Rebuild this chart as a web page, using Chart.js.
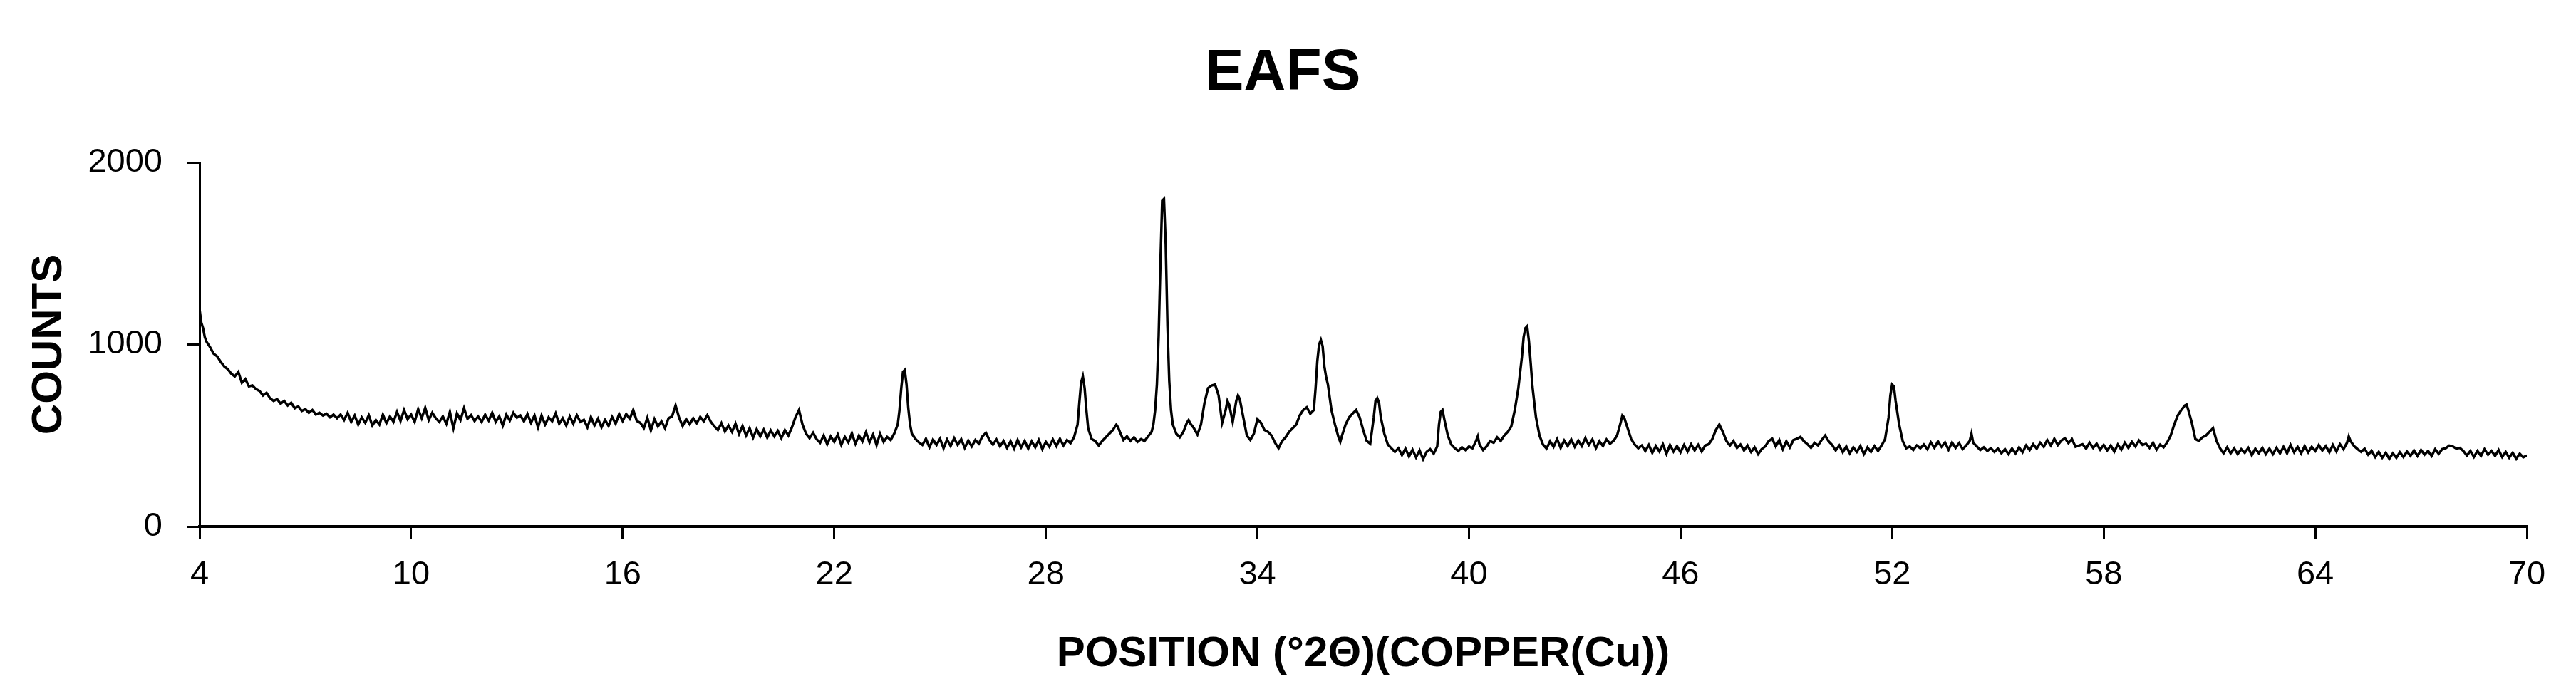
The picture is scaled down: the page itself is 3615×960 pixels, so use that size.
<!DOCTYPE html>
<html>
<head>
<meta charset="utf-8">
<script src="https://cdn.jsdelivr.net/npm/chart.js@4.4.1/dist/chart.umd.min.js"></script>
<style>
  html, body { margin: 0; padding: 0; background: #ffffff; }
  #wrap { width: 3615px; height: 960px; }
</style>
</head>
<body>
<div id="wrap"><canvas id="c" width="3615" height="960"></canvas></div>
<script>
const chartTitle = 'EAFS';
const xAxisTitle = 'POSITION (°2Θ)(COPPER(Cu))';
const yAxisTitle = 'COUNTS';
const xTickValues = [4, 10, 16, 22, 28, 34, 40, 46, 52, 58, 64, 70];
const yTickValues = [0, 1000, 2000];
const yTickLabels = ['0', '1000', '2000'];

const twoTheta = [
  4,4.05,4.1,4.15,4.2,4.3,4.4,4.5,4.6,4.7,4.8,4.9,
  5,5.1,5.2,5.3,5.4,5.5,5.6,5.7,5.8,5.9,
  6,6.1,6.2,6.3,6.4,6.5,6.6,6.7,6.8,6.9,
  7,7.1,7.2,7.3,7.4,7.5,7.6,7.7,7.8,7.9,
  8,8.1,8.2,8.3,8.4,8.5,8.6,8.7,8.8,8.9,
  9,9.1,9.2,9.3,9.4,9.5,9.6,9.7,9.8,9.9,
  10,10.1,10.2,10.3,10.4,10.5,10.6,10.7,10.8,10.9,
  11,11.1,11.2,11.3,11.4,11.5,11.6,11.7,11.8,11.9,
  12,12.1,12.2,12.3,12.4,12.5,12.6,12.7,12.8,12.9,
  13,13.1,13.2,13.3,13.4,13.5,13.6,13.7,13.8,13.9,
  14,14.1,14.2,14.3,14.4,14.5,14.6,14.7,14.8,14.9,
  15,15.1,15.2,15.3,15.4,15.5,15.6,15.7,15.8,15.9,
  16,16.1,16.2,16.3,16.4,16.5,16.6,16.7,16.8,16.9,
  17,17.1,17.2,17.3,17.4,17.5,17.6,17.7,17.8,17.9,
  18,18.1,18.2,18.3,18.4,18.5,18.6,18.7,18.8,18.9,
  19,19.1,19.2,19.3,19.4,19.5,19.6,19.7,19.8,19.9,
  20,20.1,20.2,20.3,20.4,20.5,20.6,20.7,20.8,20.9,
  21,21.1,21.2,21.3,21.4,21.5,21.6,21.7,21.8,21.9,
  22,22.1,22.2,22.3,22.4,22.5,22.6,22.7,22.8,22.9,
  23,23.1,23.2,23.3,23.4,23.5,23.6,23.7,
  23.8,23.85,23.9,23.95,24,24.05,24.1,24.15,24.2,
  24.3,24.4,24.5,24.6,24.7,24.8,24.9,
  25,25.1,25.2,25.3,25.4,25.5,25.6,25.7,25.8,25.9,
  26,26.1,26.2,26.3,26.4,26.5,26.6,26.7,26.8,26.9,
  27,27.1,27.2,27.3,27.4,27.5,27.6,27.7,27.8,27.9,
  28,28.1,28.2,28.3,28.4,28.5,28.6,28.7,28.8,
  28.9,28.95,29,29.05,29.1,29.15,29.2,
  29.3,29.4,29.5,29.6,29.7,29.8,29.9,
  30,30.05,30.1,
  30.2,30.3,30.4,30.5,30.6,30.7,30.8,30.9,
  31,31.05,31.1,31.15,31.2,31.25,31.3,31.35,31.4,31.45,31.5,31.55,31.6,
  31.7,31.8,31.9,32,32.05,32.1,32.2,32.3,32.4,32.5,32.6,32.7,32.8,32.9,
  33,33.1,33.15,33.2,33.3,33.4,33.45,33.5,33.6,33.7,33.8,33.9,
  34,34.1,34.2,34.3,34.4,34.5,34.6,34.7,34.8,34.9,
  35,35.1,35.2,35.3,35.4,35.5,35.6,35.65,35.7,35.75,35.8,35.85,35.9,35.95,
  36,36.1,36.2,36.3,36.35,36.4,36.5,36.6,36.7,36.8,36.9,
  37,37.1,37.2,37.3,37.35,37.4,37.45,37.5,37.6,37.7,37.8,37.9,
  38,38.1,38.2,38.3,38.4,38.5,38.6,38.7,38.8,38.9,
  39,39.1,39.15,39.2,39.25,39.3,39.4,39.5,39.6,39.7,39.8,39.9,
  40,40.1,40.2,40.25,40.3,40.4,40.5,40.6,40.7,40.8,40.9,
  41,41.1,41.2,41.3,41.4,41.5,41.55,41.6,41.65,41.7,41.75,41.8,41.9,
  42,42.1,42.2,42.3,42.4,42.5,42.6,42.7,42.8,42.9,
  43,43.1,43.2,43.3,43.4,43.5,43.6,43.7,43.8,43.9,
  44,44.1,44.2,44.3,44.35,44.4,44.5,44.6,44.7,44.8,44.9,
  45,45.1,45.2,45.3,45.4,45.5,45.6,45.7,45.8,45.9,
  46,46.1,46.2,46.3,46.4,46.5,46.6,46.7,46.8,46.9,
  47,47.1,47.2,47.3,47.4,47.5,47.6,47.7,47.8,47.9,
  48,48.1,48.2,48.3,48.4,48.5,48.6,48.7,48.8,48.9,
  49,49.1,49.2,49.3,49.4,49.5,49.6,49.7,49.8,49.9,
  50,50.1,50.2,50.3,50.4,50.5,50.6,50.7,50.8,50.9,
  51,51.1,51.2,51.3,51.4,51.5,51.6,51.7,51.8,
  51.9,51.95,52,52.05,52.1,52.2,52.3,52.4,52.5,52.6,52.7,52.8,52.9,
  53,53.1,53.2,53.3,53.4,53.5,53.6,53.7,53.8,53.9,
  54,54.1,54.2,54.25,54.3,54.4,54.5,54.6,54.7,54.8,54.9,
  55,55.1,55.2,55.3,55.4,55.5,55.6,55.7,55.8,55.9,
  56,56.1,56.2,56.3,56.4,56.5,56.6,56.7,56.8,56.9,
  57,57.1,57.2,57.3,57.4,57.5,57.6,57.7,57.8,57.9,
  58,58.1,58.2,58.3,58.4,58.5,58.6,58.7,58.8,58.9,
  59,59.1,59.2,59.3,59.4,59.5,59.6,59.7,59.8,59.9,
  60,60.1,60.2,60.3,60.35,60.4,60.5,60.6,60.7,60.8,60.9,
  61,61.1,61.2,61.3,61.4,61.5,61.6,61.7,61.8,61.9,
  62,62.1,62.2,62.3,62.4,62.5,62.6,62.7,62.8,62.9,
  63,63.1,63.2,63.3,63.4,63.5,63.6,63.7,63.8,63.9,
  64,64.1,64.2,64.3,64.4,64.5,64.6,64.7,64.8,64.9,64.95,
  65,65.1,65.2,65.3,65.4,65.5,65.6,65.7,65.8,65.9,
  66,66.1,66.2,66.3,66.4,66.5,66.6,66.7,66.8,66.9,
  67,67.1,67.2,67.3,67.4,67.5,67.6,67.7,67.8,67.9,
  68,68.1,68.2,68.3,68.4,68.5,68.6,68.7,68.8,68.9,
  69,69.1,69.2,69.3,69.4,69.5,69.6,69.7,69.8,69.9,
  70
];

const counts = [
  1195,1120,1090,1040,1015,985,950,935,905,880,865,840,
  825,850,790,810,770,775,755,745,720,735,
  705,690,700,675,690,665,680,650,660,635,
  645,625,640,615,625,610,620,600,615,595,
  615,585,625,575,610,560,600,570,612,555,
  585,560,615,568,605,575,630,580,640,590,
  615,575,645,595,652,585,625,595,575,605,
  565,630,540,622,585,650,592,612,580,605,
  575,615,582,625,575,605,555,615,582,625,
  598,610,578,618,570,610,545,610,560,600,
  578,622,565,595,555,605,565,612,575,586,
  545,602,555,592,545,585,553,602,565,618,
  580,618,592,640,580,570,540,598,528,590,
  550,578,540,595,605,665,598,552,590,562,
  595,568,602,578,612,575,550,530,568,522,
  555,520,565,508,552,500,540,488,535,495,
  532,488,528,495,525,485,530,500,545,600,
  640,560,510,485,515,480,460,500,452,495,
  465,505,448,492,462,512,455,500,468,518,
  462,505,448,510,465,492,475,510,
  560,640,760,850,860,780,650,560,510,
  482,462,448,482,435,478,448,
  482,430,478,442,485,448,480,432,472,440,
  475,455,495,515,475,450,478,440,470,432,
  468,428,475,435,470,428,468,435,475,425,
  465,438,478,442,482,445,475,458,490,
  560,680,790,825,760,640,540,
  480,470,445,470,490,510,530,
  560,545,520,
  475,495,470,490,465,480,470,495,
  520,560,640,780,1050,1450,1790,1800,1550,1100,800,640,560,
  510,490,520,570,585,565,540,505,560,680,760,775,780,720,
  570,640,690,670,575,690,720,700,600,500,475,510,
  590,570,530,520,500,460,430,470,490,520,
  540,560,610,640,655,620,640,760,910,1000,1025,990,880,820,
  780,640,560,490,465,500,560,600,620,640,600,
  530,470,455,600,690,705,680,600,510,450,430,410,
  430,392,428,385,422,380,418,370,410,425,
  400,440,560,630,640,590,500,450,430,415,435,420,
  440,430,470,495,450,420,440,470,460,490,470,
  500,520,550,640,760,930,1040,1090,1100,1020,900,770,600,
  500,450,428,468,438,480,432,472,442,478,
  438,472,442,485,448,478,430,468,442,478,
  455,470,500,570,610,600,540,480,450,430,445,
  415,448,405,442,412,452,400,448,412,442,
  408,448,412,452,418,448,412,445,452,480,
  530,560,520,470,445,470,432,450,418,445,
  410,435,398,425,440,470,482,440,475,425,
  468,435,475,482,492,468,452,432,460,445,
  475,500,468,448,418,445,408,440,402,435,
  410,442,398,435,410,442,415,445,480,
  600,720,780,770,690,560,470,430,440,420,445,430,450,
  425,462,432,468,438,462,422,462,432,458,
  425,445,470,510,460,440,420,435,415,430,410,
  428,402,425,398,428,402,435,408,445,420,
  452,428,460,438,475,445,482,448,472,485,
  458,480,438,445,452,428,460,432,455,422,
  448,418,445,412,450,422,460,432,465,440,
  472,448,455,432,460,422,450,435,462,500,
  560,610,640,665,670,640,570,480,470,490,500,
  520,540,470,430,402,435,402,430,398,425,
  405,432,392,428,402,432,398,428,398,432,
  402,438,402,448,408,438,402,442,408,438,
  415,448,418,442,408,448,412,452,425,460,495,
  470,442,425,410,428,395,415,382,410,378,
  405,372,402,378,408,382,412,388,418,388,
  420,395,415,388,425,400,425,430,445,440,
  428,432,415,390,415,382,415,388,425,395,
  415,388,420,382,410,378,405,372,400,380,
  390
];

if (twoTheta.length !== counts.length) {
  console.error('Length mismatch', twoTheta.length, counts.length);
}

const FONT = "'Liberation Sans', Arial, Helvetica, sans-serif";

const ctx = document.getElementById('c').getContext('2d');
new Chart(ctx, {
  type: 'line',
  data: {
    datasets: [{
      data: twoTheta.map((x, i) => ({ x: x, y: counts[i] })),
      borderColor: '#000000',
      borderWidth: 3.5,
      pointRadius: 0,
      tension: 0,
      fill: false
    }]
  },
  options: {
    responsive: false,
    animation: false,
    devicePixelRatio: 1,
    layout: { padding: { left: 54, right: 69, top: 0, bottom: 0 } },
    plugins: {
      legend: { display: false },
      tooltip: { enabled: false },
      title: {
        display: true,
        text: chartTitle,
        color: '#000000',
        font: { family: FONT, size: 82, weight: 'bold', lineHeight: 1 },
        padding: { top: 62, bottom: 84 }
      }
    },
    scales: {
      x: {
        type: 'linear',
        min: 4,
        max: 70,
        afterBuildTicks: (s) => { s.ticks = xTickValues.map(v => ({ value: v })); },
        afterFit: (s) => { s.height = 221; },
        border: { display: true, color: '#000000', width: 4 },
        grid: { drawOnChartArea: false, drawTicks: true, tickLength: 18, tickColor: '#000000', tickWidth: 3 },
        ticks: {
          color: '#000000',
          font: { family: FONT, size: 47, lineHeight: 1 },
          padding: 27,
          maxRotation: 0,
          autoSkip: false,
          callback: (v) => String(v)
        },
        title: {
          display: true,
          text: xAxisTitle,
          color: '#000000',
          font: { family: FONT, size: 60, weight: 'bold', lineHeight: 1 },
          padding: { top: 0, bottom: 12 }
        }
      },
      y: {
        type: 'linear',
        min: 0,
        max: 2000,
        afterBuildTicks: (s) => { s.ticks = yTickValues.map(v => ({ value: v })); },
        afterFit: (s) => { s.width = 226; },
        border: { display: true, color: '#000000', width: 3 },
        grid: { drawOnChartArea: false, drawTicks: true, tickLength: 17, tickColor: '#000000', tickWidth: 3 },
        ticks: {
          color: '#000000',
          font: { family: FONT, size: 47, lineHeight: 1 },
          padding: 35,
          callback: (v) => yTickLabels[yTickValues.indexOf(v)]
        },
        title: {
          display: true,
          text: yAxisTitle,
          color: '#000000',
          font: { family: FONT, size: 60, weight: 'bold', lineHeight: 1 },
          padding: { top: -15, bottom: 0 }
        }
      }
    }
  }
});
</script>
</body>
</html>
